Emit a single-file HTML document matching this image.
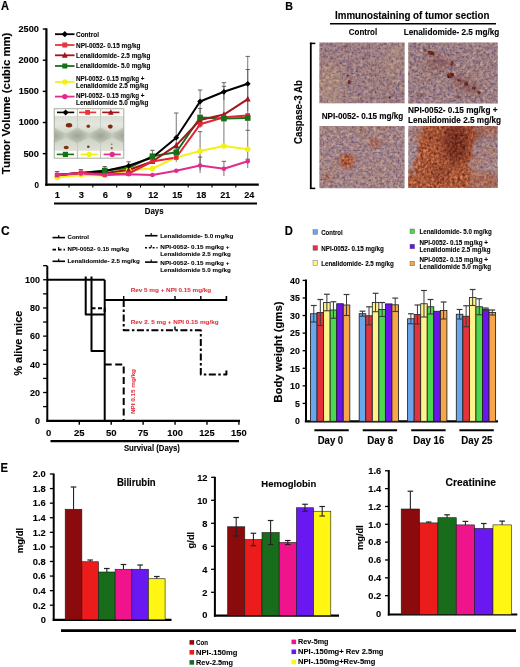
<!DOCTYPE html>
<html><head><meta charset="utf-8"><style>
html,body{margin:0;padding:0;background:#fff;}
svg{display:block;font-family:"Liberation Sans", sans-serif;}
</style></head><body>
<svg style="will-change:transform" width="520" height="667" viewBox="0 0 520 667" font-family='"Liberation Sans", sans-serif'>

<defs>
<clipPath id="clipB0"><rect x="319.4" y="42.5" width="85.2" height="60.7"/></clipPath>
<clipPath id="clipB1"><rect x="408.2" y="42.4" width="89.6" height="61.2"/></clipPath>
<clipPath id="clipB2"><rect x="319.4" y="126" width="85.2" height="62.2"/></clipPath>
<clipPath id="clipB3"><rect x="408.2" y="126.1" width="89.6" height="61.8"/></clipPath>
<clipPath id="clipInset"><rect x="54.2" y="108.7" width="69.6" height="49.5"/></clipPath>
<linearGradient id="gWellU" x1="0" y1="0" x2="0" y2="1"><stop offset="0" stop-color="#d9ddd2"/><stop offset="0.5" stop-color="#e4e7de"/><stop offset="1" stop-color="#d2d6ca"/></linearGradient>
<linearGradient id="gWellL" x1="0" y1="0" x2="0" y2="1"><stop offset="0" stop-color="#d0d4c7"/><stop offset="1" stop-color="#dfe2d8"/></linearGradient>
<radialGradient id="gDia"><stop offset="0" stop-color="#9fa595"/><stop offset="1" stop-color="#bfc5b6"/></radialGradient>
<filter id="blur05" x="-50%" y="-50%" width="200%" height="200%"><feGaussianBlur stdDeviation="0.45"/></filter>
<filter id="texBrown" x="0" y="0" width="100%" height="100%" color-interpolation-filters="sRGB"><feTurbulence type="fractalNoise" baseFrequency="0.35" numOctaves="2" seed="21"/><feColorMatrix type="matrix" values="0.2 0.6 0 0 0.05  0.15 0.45 0 0 -0.14  0.1 0.35 0 0 -0.1  0 0 0 0 1"/></filter>
<filter id="texTan" x="0" y="0" width="100%" height="100%" color-interpolation-filters="sRGB"><feTurbulence type="fractalNoise" baseFrequency="0.35" numOctaves="2" seed="29"/><feColorMatrix type="matrix" values="0.2 0.5 0 0 0.42  0.2 0.5 0 0 0.28  0.15 0.4 0 0 0.22  0 0 0 0 1"/></filter>
<filter id="texOrange" x="0" y="0" width="100%" height="100%" color-interpolation-filters="sRGB"><feTurbulence type="fractalNoise" baseFrequency="0.38" numOctaves="2" seed="26"/><feColorMatrix type="matrix" values="0.3 0.65 0 0 0.19  0.25 0.5 0 0 -0.03  0.15 0.4 0 0 -0.05  0 0 0 0 1"/></filter>
<filter id="texDark" x="0" y="0" width="100%" height="100%" color-interpolation-filters="sRGB"><feTurbulence type="fractalNoise" baseFrequency="0.38" numOctaves="2" seed="31"/><feColorMatrix type="matrix" values="0.2 0.6 0 0 0.03  0.1 0.4 0 0 -0.08  0.1 0.3 0 0 -0.08  0 0 0 0 1"/></filter>
<filter id="ragged" x="-20%" y="-20%" width="140%" height="140%" filterUnits="objectBoundingBox"><feTurbulence type="fractalNoise" baseFrequency="0.15" numOctaves="3" seed="5" result="t"/><feDisplacementMap in="SourceGraphic" in2="t" scale="16" xChannelSelector="R" yChannelSelector="G" result="d"/><feGaussianBlur in="d" stdDeviation="1.2"/></filter>
<filter id="blur15" x="-50%" y="-50%" width="200%" height="200%"><feGaussianBlur stdDeviation="1.0"/></filter>
<filter id="blur1" x="-50%" y="-50%" width="200%" height="200%"><feGaussianBlur stdDeviation="0.7"/></filter>
<filter id="blur2" x="-50%" y="-50%" width="200%" height="200%"><feGaussianBlur stdDeviation="2"/></filter>
<filter id="blur3" x="-50%" y="-50%" width="200%" height="200%"><feGaussianBlur stdDeviation="4"/></filter>

<filter id="tissue0" x="0" y="0" width="100%" height="100%" color-interpolation-filters="sRGB">
 <feTurbulence type="fractalNoise" baseFrequency="0.3" numOctaves="2" seed="3"/>
 <feColorMatrix type="matrix" values="0.3 0.35 0 0 0.335  0.2 0.35 0 0 0.28  0 0.3 0 0 0.41  0 0 0 0 1" result="b"/>
 <feTurbulence type="fractalNoise" baseFrequency="0.48" numOctaves="1" seed="17" result="n"/>
 <feColorMatrix in="n" type="matrix" values="0 0 0 0 0.33  0 0 0 0 0.31  0 0 0 0 0.53  1 0 0 0 0"/>
 <feComponentTransfer><feFuncA type="linear" slope="3.2" intercept="-1.68"/></feComponentTransfer>
 <feGaussianBlur stdDeviation="0.4" result="nn"/>
 <feComposite in="nn" in2="b" operator="over"/>
</filter>


<filter id="tissue1" x="0" y="0" width="100%" height="100%" color-interpolation-filters="sRGB">
 <feTurbulence type="fractalNoise" baseFrequency="0.3" numOctaves="2" seed="10"/>
 <feColorMatrix type="matrix" values="0.3 0.35 0 0 0.335  0.2 0.35 0 0 0.28  0 0.3 0 0 0.41  0 0 0 0 1" result="b"/>
 <feTurbulence type="fractalNoise" baseFrequency="0.48" numOctaves="1" seed="28" result="n"/>
 <feColorMatrix in="n" type="matrix" values="0 0 0 0 0.33  0 0 0 0 0.31  0 0 0 0 0.53  1 0 0 0 0"/>
 <feComponentTransfer><feFuncA type="linear" slope="3.2" intercept="-1.68"/></feComponentTransfer>
 <feGaussianBlur stdDeviation="0.4" result="nn"/>
 <feComposite in="nn" in2="b" operator="over"/>
</filter>


<filter id="tissue2" x="0" y="0" width="100%" height="100%" color-interpolation-filters="sRGB">
 <feTurbulence type="fractalNoise" baseFrequency="0.3" numOctaves="2" seed="17"/>
 <feColorMatrix type="matrix" values="0.3 0.35 0 0 0.335  0.2 0.35 0 0 0.28  0 0.3 0 0 0.41  0 0 0 0 1" result="b"/>
 <feTurbulence type="fractalNoise" baseFrequency="0.48" numOctaves="1" seed="39" result="n"/>
 <feColorMatrix in="n" type="matrix" values="0 0 0 0 0.33  0 0 0 0 0.31  0 0 0 0 0.53  1 0 0 0 0"/>
 <feComponentTransfer><feFuncA type="linear" slope="3.2" intercept="-1.68"/></feComponentTransfer>
 <feGaussianBlur stdDeviation="0.4" result="nn"/>
 <feComposite in="nn" in2="b" operator="over"/>
</filter>


<filter id="tissue3" x="0" y="0" width="100%" height="100%" color-interpolation-filters="sRGB">
 <feTurbulence type="fractalNoise" baseFrequency="0.3" numOctaves="2" seed="24"/>
 <feColorMatrix type="matrix" values="0.3 0.35 0 0 0.335  0.2 0.35 0 0 0.28  0 0.3 0 0 0.41  0 0 0 0 1" result="b"/>
 <feTurbulence type="fractalNoise" baseFrequency="0.48" numOctaves="1" seed="50" result="n"/>
 <feColorMatrix in="n" type="matrix" values="0 0 0 0 0.33  0 0 0 0 0.31  0 0 0 0 0.53  1 0 0 0 0"/>
 <feComponentTransfer><feFuncA type="linear" slope="3.2" intercept="-1.68"/></feComponentTransfer>
 <feGaussianBlur stdDeviation="0.4" result="nn"/>
 <feComposite in="nn" in2="b" operator="over"/>
</filter>

<mask id="m0_0" maskUnits="userSpaceOnUse" x="300" y="30" width="220" height="170"><g filter="url(#blur1)" fill="#fff"><ellipse cx="349" cy="82" rx="1.4" ry="2.6"/><ellipse cx="390" cy="97.5" rx="1.2" ry="1.2"/><ellipse cx="347.5" cy="76" rx="1.2" ry="1.4" opacity="0.7"/><ellipse cx="345" cy="47" rx="2" ry="2" opacity="0.4"/></g><rect x="319" y="42" width="86" height="62" fill="#fff" opacity="0.12"/></mask><mask id="m0_1" maskUnits="userSpaceOnUse" x="300" y="30" width="220" height="170"><g filter="url(#blur3)" fill="#fff"><ellipse cx="330" cy="85" rx="14" ry="20" opacity="0.35"/><ellipse cx="395" cy="60" rx="12" ry="20" opacity="0.25"/></g></mask><mask id="m1_0" maskUnits="userSpaceOnUse" x="300" y="30" width="220" height="170"><g filter="url(#blur1)" fill="#fff"><ellipse cx="431" cy="53" rx="3.6" ry="2" transform="rotate(20 431 53)"/><ellipse cx="425" cy="50.5" rx="1.8" ry="1.4" opacity="0.7"/><ellipse cx="452" cy="63.5" rx="1.6" ry="2.4"/><ellipse cx="450.5" cy="75.5" rx="3.6" ry="2.6" transform="rotate(-20 450.5 75.5)"/><ellipse cx="459" cy="80" rx="2" ry="1.5"/><ellipse cx="466" cy="84" rx="2.2" ry="1.7"/><ellipse cx="474" cy="88" rx="2" ry="1.7"/><ellipse cx="479" cy="92.5" rx="1.8" ry="1.6"/><ellipse cx="458" cy="97" rx="3" ry="1.6" opacity="0.5"/><ellipse cx="420" cy="95" rx="3" ry="2" opacity="0.35"/></g></mask><mask id="m1_1" maskUnits="userSpaceOnUse" x="300" y="30" width="220" height="170"><g filter="url(#blur3)" fill="#fff"><ellipse cx="440" cy="62" rx="14" ry="6" transform="rotate(25 440 62)" opacity="0.35"/><ellipse cx="465" cy="85" rx="16" ry="6" transform="rotate(30 465 85)" opacity="0.35"/><ellipse cx="430" cy="68" rx="8" ry="3" opacity="0.3"/></g><rect x="408" y="42" width="90" height="62" fill="#fff" opacity="0.1"/></mask><mask id="m2_0" maskUnits="userSpaceOnUse" x="300" y="30" width="220" height="170"><g filter="url(#blur2)" fill="#fff"><ellipse cx="347" cy="161" rx="8" ry="7"/><ellipse cx="375" cy="143" rx="7" ry="5" opacity="0.55"/><ellipse cx="327" cy="177.5" rx="3" ry="2.2"/><ellipse cx="362" cy="132" rx="5" ry="3" opacity="0.4"/><ellipse cx="385" cy="128" rx="6" ry="3" opacity="0.3"/></g><rect x="319" y="126" width="86" height="62" fill="#fff" opacity="0.1"/></mask><mask id="m3_0" maskUnits="userSpaceOnUse" x="300" y="30" width="220" height="170"><g filter="url(#ragged)" fill="#fff"><path d="M421 122 L474 122 L478 136 L468 160 L472 192 L406 192 L406 178 L414 171 L418 150 Z"/></g><g filter="url(#blur3)" fill="#fff"><ellipse cx="488" cy="182" rx="16" ry="10" opacity="0.7"/><ellipse cx="490" cy="128" rx="14" ry="8" opacity="0.65"/><ellipse cx="476" cy="160" rx="8" ry="6" opacity="0.45"/><ellipse cx="470" cy="178" rx="8" ry="8" opacity="0.6"/><ellipse cx="490" cy="152" rx="10" ry="8" opacity="0.3"/><ellipse cx="414" cy="135" rx="6" ry="10" opacity="0.3"/></g></mask><mask id="m3_1" maskUnits="userSpaceOnUse" x="300" y="30" width="220" height="170"><g filter="url(#blur3)" fill="#fff"><ellipse cx="456" cy="143" rx="13" ry="21" opacity="0.85"/><ellipse cx="440" cy="172" rx="10" ry="8" opacity="0.4"/><ellipse cx="432" cy="135" rx="6" ry="6" opacity="0.3"/><ellipse cx="478" cy="135" rx="6" ry="8" opacity="0.4"/></g></mask>
</defs>

<rect width="520" height="667" fill="#fff"/>
<text x="0.9" y="10.2" font-size="12.2" font-weight="bold" fill="#000" stroke="#000" stroke-width="0.15" textLength="8" lengthAdjust="spacingAndGlyphs" >A</text>
<text x="9.6" y="103.4" font-size="10.9" font-weight="bold" fill="#000" stroke="#000" stroke-width="0.13" text-anchor="middle" textLength="141.5" lengthAdjust="spacingAndGlyphs" transform="rotate(-90 9.6 103.4)" >Tumor Volume (cubic mm)</text>
<line x1="46.4" y1="28.3" x2="46.4" y2="185.8" stroke="#000" stroke-width="2.2" />
<text x="38.9" y="187.75" font-size="8.2" font-weight="bold" fill="#000" stroke="#000" stroke-width="0.10" text-anchor="end" textLength="4.5" lengthAdjust="spacingAndGlyphs" >0</text>
<line x1="42.8" y1="153.65" x2="46.4" y2="153.65" stroke="#000" stroke-width="1.4" />
<text x="38.9" y="156.6" font-size="8.2" font-weight="bold" fill="#000" stroke="#000" stroke-width="0.10" text-anchor="end" textLength="15.5" lengthAdjust="spacingAndGlyphs" >500</text>
<line x1="42.8" y1="122.5" x2="46.4" y2="122.5" stroke="#000" stroke-width="1.4" />
<text x="38.9" y="125.45" font-size="8.2" font-weight="bold" fill="#000" stroke="#000" stroke-width="0.10" text-anchor="end" textLength="20.2" lengthAdjust="spacingAndGlyphs" >1000</text>
<line x1="42.8" y1="91.35000000000001" x2="46.4" y2="91.35000000000001" stroke="#000" stroke-width="1.4" />
<text x="38.9" y="94.30000000000001" font-size="8.2" font-weight="bold" fill="#000" stroke="#000" stroke-width="0.10" text-anchor="end" textLength="20.2" lengthAdjust="spacingAndGlyphs" >1500</text>
<line x1="42.8" y1="60.2" x2="46.4" y2="60.2" stroke="#000" stroke-width="1.4" />
<text x="38.9" y="63.150000000000006" font-size="8.2" font-weight="bold" fill="#000" stroke="#000" stroke-width="0.10" text-anchor="end" textLength="20.4" lengthAdjust="spacingAndGlyphs" >2000</text>
<line x1="42.8" y1="29.05000000000001" x2="46.4" y2="29.05000000000001" stroke="#000" stroke-width="1.4" />
<text x="38.9" y="32.000000000000014" font-size="8.2" font-weight="bold" fill="#000" stroke="#000" stroke-width="0.10" text-anchor="end" textLength="20.4" lengthAdjust="spacingAndGlyphs" >2500</text>
<line x1="45.3" y1="184.7" x2="258.8" y2="184.7" stroke="#000" stroke-width="2.2" />
<line x1="69.015" y1="184.7" x2="69.015" y2="187.5" stroke="#000" stroke-width="1.1" />
<line x1="92.845" y1="184.7" x2="92.845" y2="187.5" stroke="#000" stroke-width="1.1" />
<line x1="116.675" y1="184.7" x2="116.675" y2="187.5" stroke="#000" stroke-width="1.1" />
<line x1="140.505" y1="184.7" x2="140.505" y2="187.5" stroke="#000" stroke-width="1.1" />
<line x1="164.33499999999998" y1="184.7" x2="164.33499999999998" y2="187.5" stroke="#000" stroke-width="1.1" />
<line x1="188.165" y1="184.7" x2="188.165" y2="187.5" stroke="#000" stroke-width="1.1" />
<line x1="211.995" y1="184.7" x2="211.995" y2="187.5" stroke="#000" stroke-width="1.1" />
<line x1="235.825" y1="184.7" x2="235.825" y2="187.5" stroke="#000" stroke-width="1.1" />
<text x="57.3" y="198.0" font-size="9.4" font-weight="bold" fill="#000" stroke="#000" stroke-width="0.11" text-anchor="middle" textLength="5.2" lengthAdjust="spacingAndGlyphs" >1</text>
<text x="81.3" y="198.0" font-size="9.4" font-weight="bold" fill="#000" stroke="#000" stroke-width="0.11" text-anchor="middle" textLength="5.2" lengthAdjust="spacingAndGlyphs" >3</text>
<text x="105.3" y="198.0" font-size="9.4" font-weight="bold" fill="#000" stroke="#000" stroke-width="0.11" text-anchor="middle" textLength="5.2" lengthAdjust="spacingAndGlyphs" >6</text>
<text x="129.3" y="198.0" font-size="9.4" font-weight="bold" fill="#000" stroke="#000" stroke-width="0.11" text-anchor="middle" textLength="5.2" lengthAdjust="spacingAndGlyphs" >9</text>
<text x="153.3" y="198.0" font-size="9.4" font-weight="bold" fill="#000" stroke="#000" stroke-width="0.11" text-anchor="middle" textLength="10.1" lengthAdjust="spacingAndGlyphs" >12</text>
<text x="177.3" y="198.0" font-size="9.4" font-weight="bold" fill="#000" stroke="#000" stroke-width="0.11" text-anchor="middle" textLength="10.1" lengthAdjust="spacingAndGlyphs" >15</text>
<text x="201.3" y="198.0" font-size="9.4" font-weight="bold" fill="#000" stroke="#000" stroke-width="0.11" text-anchor="middle" textLength="10.1" lengthAdjust="spacingAndGlyphs" >18</text>
<text x="225.3" y="198.0" font-size="9.4" font-weight="bold" fill="#000" stroke="#000" stroke-width="0.11" text-anchor="middle" textLength="10.1" lengthAdjust="spacingAndGlyphs" >21</text>
<text x="249.3" y="198.0" font-size="9.4" font-weight="bold" fill="#000" stroke="#000" stroke-width="0.11" text-anchor="middle" textLength="10.1" lengthAdjust="spacingAndGlyphs" >24</text>
<line x1="54" y1="203.5" x2="257" y2="203.5" stroke="#000" stroke-width="2.2" />
<text x="154.2" y="214.1" font-size="9.2" font-weight="bold" fill="#000" stroke="#000" stroke-width="0.11" text-anchor="middle" textLength="18.8" lengthAdjust="spacingAndGlyphs" >Days</text>
<line x1="57.1" y1="171.5" x2="57.1" y2="178" stroke="#555" stroke-width="0.8" />
<line x1="54.9" y1="171.5" x2="59.300000000000004" y2="171.5" stroke="#555" stroke-width="0.9" />
<line x1="80.93" y1="169.5" x2="80.93" y2="176" stroke="#555" stroke-width="0.8" />
<line x1="78.73" y1="169.5" x2="83.13000000000001" y2="169.5" stroke="#555" stroke-width="0.9" />
<line x1="104.75999999999999" y1="166.5" x2="104.75999999999999" y2="176" stroke="#555" stroke-width="0.8" />
<line x1="102.55999999999999" y1="166.5" x2="106.96" y2="166.5" stroke="#555" stroke-width="0.9" />
<line x1="128.59" y1="161.8" x2="128.59" y2="171" stroke="#555" stroke-width="0.8" />
<line x1="126.39" y1="161.8" x2="130.79" y2="161.8" stroke="#555" stroke-width="0.9" />
<line x1="152.42" y1="150.3" x2="152.42" y2="163" stroke="#555" stroke-width="0.8" />
<line x1="150.22" y1="150.3" x2="154.61999999999998" y2="150.3" stroke="#555" stroke-width="0.9" />
<line x1="176.25" y1="113" x2="176.25" y2="162" stroke="#555" stroke-width="0.8" />
<line x1="174.05" y1="113" x2="178.45" y2="113" stroke="#555" stroke-width="0.9" />
<line x1="176.25" y1="148" x2="176.25" y2="157" stroke="#555" stroke-width="0.8" />
<line x1="174.05" y1="148" x2="178.45" y2="148" stroke="#555" stroke-width="0.9" />
<line x1="200.07999999999998" y1="90" x2="200.07999999999998" y2="113" stroke="#555" stroke-width="0.8" />
<line x1="197.88" y1="90" x2="202.27999999999997" y2="90" stroke="#555" stroke-width="0.9" />
<line x1="200.07999999999998" y1="108.5" x2="200.07999999999998" y2="128" stroke="#555" stroke-width="0.8" />
<line x1="197.88" y1="108.5" x2="202.27999999999997" y2="108.5" stroke="#555" stroke-width="0.9" />
<line x1="200.07999999999998" y1="131.7" x2="200.07999999999998" y2="170" stroke="#555" stroke-width="0.8" />
<line x1="197.88" y1="131.7" x2="202.27999999999997" y2="131.7" stroke="#555" stroke-width="0.9" />
<line x1="200.07999999999998" y1="157" x2="200.07999999999998" y2="173" stroke="#555" stroke-width="0.8" />
<line x1="197.88" y1="157" x2="202.27999999999997" y2="157" stroke="#555" stroke-width="0.9" />
<line x1="223.91" y1="82.7" x2="223.91" y2="145.5" stroke="#555" stroke-width="0.8" />
<line x1="221.71" y1="82.7" x2="226.10999999999999" y2="82.7" stroke="#555" stroke-width="0.9" />
<line x1="223.91" y1="86.3" x2="223.91" y2="100" stroke="#555" stroke-width="0.8" />
<line x1="221.71" y1="86.3" x2="226.10999999999999" y2="86.3" stroke="#555" stroke-width="0.9" />
<line x1="223.91" y1="161.3" x2="223.91" y2="176" stroke="#555" stroke-width="0.8" />
<line x1="221.71" y1="161.3" x2="226.10999999999999" y2="161.3" stroke="#555" stroke-width="0.9" />
<line x1="247.73999999999998" y1="56.4" x2="247.73999999999998" y2="111" stroke="#555" stroke-width="0.8" />
<line x1="245.54" y1="56.4" x2="249.93999999999997" y2="56.4" stroke="#555" stroke-width="0.9" />
<line x1="247.73999999999998" y1="69.5" x2="247.73999999999998" y2="130" stroke="#555" stroke-width="0.8" />
<line x1="245.54" y1="69.5" x2="249.93999999999997" y2="69.5" stroke="#555" stroke-width="0.9" />
<line x1="247.73999999999998" y1="130.3" x2="247.73999999999998" y2="168" stroke="#555" stroke-width="0.8" />
<line x1="245.54" y1="130.3" x2="249.93999999999997" y2="130.3" stroke="#555" stroke-width="0.9" />
<line x1="247.73999999999998" y1="159.2" x2="247.73999999999998" y2="164" stroke="#555" stroke-width="0.8" />
<line x1="245.54" y1="159.2" x2="249.93999999999997" y2="159.2" stroke="#555" stroke-width="0.9" />
<polyline points="57.10,177.50 80.93,175.00 104.76,175.50 128.59,170.30 152.42,168.50 176.25,157.40 200.08,151.00 223.91,146.00 247.74,149.30" fill="none" stroke="#f4f014" stroke-width="2.0" stroke-linejoin="round" />
<polyline points="57.10,175.00 80.93,173.00 104.76,170.50 128.59,168.00 152.42,156.20 176.25,152.30 200.08,117.50 223.91,118.60 247.74,118.00" fill="none" stroke="#167016" stroke-width="2.0" stroke-linejoin="round" />
<polyline points="57.10,175.00 80.93,173.00 104.76,173.00 128.59,170.00 152.42,161.50 176.25,145.40 200.08,120.00 223.91,114.60 247.74,99.10" fill="none" stroke="#a3151c" stroke-width="2.0" stroke-linejoin="round" />
<polyline points="57.10,175.00 80.93,173.00 104.76,171.00 128.59,165.80 152.42,157.50 176.25,137.70 200.08,101.50 223.91,91.80 247.74,83.80" fill="none" stroke="#000000" stroke-width="2.0" stroke-linejoin="round" />
<polyline points="57.10,175.00 80.93,172.80 104.76,174.50 128.59,173.50 152.42,161.50 176.25,157.50 200.08,124.30 223.91,117.30 247.74,115.50" fill="none" stroke="#e2243a" stroke-width="2.0" stroke-linejoin="round" />
<polyline points="57.10,175.00 80.93,173.50 104.76,175.00 128.59,174.30 152.42,175.00 176.25,170.80 200.08,165.50 223.91,168.80 247.74,161.30" fill="none" stroke="#e02c8a" stroke-width="2.0" stroke-linejoin="round" />
<circle cx="57.1" cy="177.5" r="2.8" fill="#f4f014"/>
<circle cx="80.93" cy="175" r="2.8" fill="#f4f014"/>
<circle cx="104.75999999999999" cy="175.5" r="2.8" fill="#f4f014"/>
<circle cx="128.59" cy="170.3" r="2.8" fill="#f4f014"/>
<circle cx="152.42" cy="168.5" r="2.8" fill="#f4f014"/>
<circle cx="176.25" cy="157.4" r="2.8" fill="#f4f014"/>
<circle cx="200.07999999999998" cy="151" r="2.8" fill="#f4f014"/>
<circle cx="223.91" cy="146" r="2.8" fill="#f4f014"/>
<circle cx="247.73999999999998" cy="149.3" r="2.8" fill="#f4f014"/>
<polygon points="104.75999999999999,169.7 107.66,175.5 101.85999999999999,175.5" fill="#a3151c"/>
<polygon points="128.59,166.7 131.49,172.5 125.69,172.5" fill="#a3151c"/>
<polygon points="152.42,158.2 155.32,164.0 149.51999999999998,164.0" fill="#a3151c"/>
<polygon points="176.25,142.1 179.15,147.9 173.35,147.9" fill="#a3151c"/>
<polygon points="200.07999999999998,116.7 202.98,122.5 197.17999999999998,122.5" fill="#a3151c"/>
<polygon points="223.91,111.3 226.81,117.1 221.01,117.1" fill="#a3151c"/>
<polygon points="247.73999999999998,95.8 250.64,101.6 244.83999999999997,101.6" fill="#a3151c"/>
<polygon points="104.75999999999999,168.1 107.65999999999998,171 104.75999999999999,173.9 101.86,171" fill="#000000"/>
<polygon points="128.59,162.9 131.49,165.8 128.59,168.70000000000002 125.69000000000001,165.8" fill="#000000"/>
<polygon points="152.42,154.6 155.32,157.5 152.42,160.4 149.51999999999998,157.5" fill="#000000"/>
<polygon points="176.25,134.79999999999998 179.15,137.7 176.25,140.6 173.35,137.7" fill="#000000"/>
<polygon points="200.07999999999998,98.60000000000001 202.98,101.5 200.07999999999998,104.39999999999999 197.17999999999998,101.5" fill="#000000"/>
<polygon points="223.91,88.9 226.81,91.8 223.91,94.69999999999999 221.01,91.8" fill="#000000"/>
<polygon points="247.73999999999998,80.9 250.64,83.8 247.73999999999998,86.69999999999999 244.83999999999997,83.8" fill="#000000"/>
<rect x="54.80" y="172.70" width="4.60" height="4.60" fill="#e2243a" />
<rect x="78.63" y="170.50" width="4.60" height="4.60" fill="#e2243a" />
<rect x="102.46" y="172.20" width="4.60" height="4.60" fill="#e2243a" />
<rect x="126.29" y="171.20" width="4.60" height="4.60" fill="#e2243a" />
<rect x="150.12" y="159.20" width="4.60" height="4.60" fill="#e2243a" />
<rect x="173.95" y="155.20" width="4.60" height="4.60" fill="#e2243a" />
<rect x="197.78" y="122.00" width="4.60" height="4.60" fill="#e2243a" />
<rect x="221.61" y="115.00" width="4.60" height="4.60" fill="#e2243a" />
<rect x="245.44" y="113.20" width="4.60" height="4.60" fill="#e2243a" />
<rect x="101.96" y="167.70" width="5.60" height="5.60" fill="#167016" />
<rect x="149.62" y="153.40" width="5.60" height="5.60" fill="#167016" />
<rect x="173.45" y="149.50" width="5.60" height="5.60" fill="#167016" />
<rect x="197.28" y="114.70" width="5.60" height="5.60" fill="#167016" />
<rect x="221.11" y="115.80" width="5.60" height="5.60" fill="#167016" />
<rect x="244.94" y="115.20" width="5.60" height="5.60" fill="#167016" />
<circle cx="57.1" cy="175" r="2.3" fill="#e02c8a"/>
<circle cx="80.93" cy="173.5" r="2.3" fill="#e02c8a"/>
<circle cx="104.75999999999999" cy="175" r="2.3" fill="#e02c8a"/>
<circle cx="128.59" cy="174.3" r="2.3" fill="#e02c8a"/>
<circle cx="152.42" cy="175" r="2.3" fill="#e02c8a"/>
<circle cx="176.25" cy="170.8" r="2.3" fill="#e02c8a"/>
<circle cx="200.07999999999998" cy="165.5" r="2.3" fill="#e02c8a"/>
<circle cx="223.91" cy="168.8" r="2.3" fill="#e02c8a"/>
<circle cx="247.73999999999998" cy="161.3" r="2.3" fill="#e02c8a"/>
<line x1="55" y1="34.2" x2="74.5" y2="34.2" stroke="#000000" stroke-width="1.8" />
<polygon points="64.8,31.1 67.89999999999999,34.2 64.8,37.300000000000004 61.699999999999996,34.2" fill="#000000"/>
<text x="76" y="37.199999999999996" font-size="6.6" font-weight="bold" fill="#000" stroke="#000" stroke-width="0.08" textLength="23" lengthAdjust="spacingAndGlyphs" >Control</text>
<line x1="55" y1="45" x2="74.5" y2="45" stroke="#e8343c" stroke-width="1.8" />
<rect x="62.30" y="42.50" width="5.00" height="5.00" fill="#e8343c" />
<text x="76" y="47.8" font-size="6.6" font-weight="bold" fill="#000" stroke="#000" stroke-width="0.08" textLength="64.5" lengthAdjust="spacingAndGlyphs" >NPI-0052- 0.15 mg/kg</text>
<line x1="55" y1="55.3" x2="74.5" y2="55.3" stroke="#a3151c" stroke-width="1.8" />
<polygon points="64.8,52.0 67.7,57.8 61.9,57.8" fill="#a3151c"/>
<text x="76" y="57.699999999999996" font-size="6.6" font-weight="bold" fill="#000" stroke="#000" stroke-width="0.08" textLength="74.5" lengthAdjust="spacingAndGlyphs" >Lenalidomide- 2.5 mg/kg</text>
<line x1="55" y1="66" x2="74.5" y2="66" stroke="#167016" stroke-width="1.8" />
<rect x="62.30" y="63.50" width="5.00" height="5.00" fill="#167016" />
<text x="76" y="68.4" font-size="6.6" font-weight="bold" fill="#000" stroke="#000" stroke-width="0.08" textLength="74.5" lengthAdjust="spacingAndGlyphs" >Lenalidomide- 5.0 mg/kg</text>
<line x1="55" y1="82" x2="74.5" y2="82" stroke="#f4f014" stroke-width="1.8" />
<circle cx="64.8" cy="82" r="2.7" fill="#f4f014"/>
<text x="76" y="81.4" font-size="6.6" font-weight="bold" fill="#000" stroke="#000" stroke-width="0.08" textLength="68.5" lengthAdjust="spacingAndGlyphs" >NPI-0052- 0.15 mg/kg +</text>
<text x="76" y="88.30000000000001" font-size="6.6" font-weight="bold" fill="#000" stroke="#000" stroke-width="0.08" textLength="72.5" lengthAdjust="spacingAndGlyphs" >Lenalidomide 2.5 mg/kg</text>
<line x1="55" y1="96.6" x2="74.5" y2="96.6" stroke="#e02c8a" stroke-width="1.8" />
<circle cx="64.8" cy="96.6" r="2.7" fill="#e02c8a"/>
<text x="76" y="98.4" font-size="6.6" font-weight="bold" fill="#000" stroke="#000" stroke-width="0.08" textLength="68.5" lengthAdjust="spacingAndGlyphs" >NPI-0052- 0.15 mg/kg +</text>
<text x="76" y="105.30000000000001" font-size="6.6" font-weight="bold" fill="#000" stroke="#000" stroke-width="0.08" textLength="72.5" lengthAdjust="spacingAndGlyphs" >Lenalidomide 5.0 mg/kg</text>
<g clip-path="url(#clipInset)">
<rect x="54.20" y="108.70" width="69.60" height="49.50" fill="#c2c8ba" />
<polygon points="54.599999999999994,115 76.99999999999999,115 76.99999999999999,127.5 65.8,133.6 54.599999999999994,127.5" fill="url(#gWellU)"/>
<polygon points="54.599999999999994,152 54.599999999999994,143.5 65.8,137.8 76.99999999999999,143.5 76.99999999999999,152" fill="url(#gWellL)"/>
<polygon points="77.80000000000001,115 100.19999999999999,115 100.19999999999999,127.5 89.0,133.6 77.80000000000001,127.5" fill="url(#gWellU)"/>
<polygon points="77.80000000000001,152 77.80000000000001,143.5 89.0,137.8 100.19999999999999,143.5 100.19999999999999,152" fill="url(#gWellL)"/>
<polygon points="101.0,115 123.39999999999998,115 123.39999999999998,127.5 112.19999999999999,133.6 101.0,127.5" fill="url(#gWellU)"/>
<polygon points="101.0,152 101.0,143.5 112.19999999999999,137.8 123.39999999999998,143.5 123.39999999999998,152" fill="url(#gWellL)"/>
<polygon points="54.2,129 64.3,134.3 64.3,137.2 54.2,142.5 44.1,137.2 44.1,134.3" fill="url(#gDia)"/>
<polygon points="77.4,129 87.5,134.3 87.5,137.2 77.4,142.5 67.30000000000001,137.2 67.30000000000001,134.3" fill="url(#gDia)"/>
<polygon points="100.6,129 110.69999999999999,134.3 110.69999999999999,137.2 100.6,142.5 90.5,137.2 90.5,134.3" fill="url(#gDia)"/>
<polygon points="123.8,129 133.9,134.3 133.9,137.2 123.8,142.5 113.7,137.2 113.7,134.3" fill="url(#gDia)"/>
<ellipse cx="69" cy="125.2" rx="3.2" ry="2.2" fill="#7e2c14" filter="url(#blur05)"/>
<ellipse cx="88.3" cy="126.2" rx="1.8" ry="1.7" fill="#8a3418" filter="url(#blur05)"/>
<ellipse cx="110.3" cy="126.6" rx="2.4" ry="2.1" fill="#7e2c14" filter="url(#blur05)"/>
<ellipse cx="66.2" cy="147.5" rx="2.6" ry="1.8" fill="#7e3414" filter="url(#blur05)"/>
<ellipse cx="88.3" cy="146.8" rx="1.3" ry="1.3" fill="#6e3a1e" filter="url(#blur05)"/>
<ellipse cx="111.7" cy="148.2" rx="1.1" ry="1.1" fill="#9a5a3a" filter="url(#blur05)"/>
<ellipse cx="111.7" cy="144.3" rx="0.8" ry="0.8" fill="#9a6a4a" filter="url(#blur05)"/>
<rect x="54.20" y="108.70" width="69.60" height="7.30" fill="#fbfbf8" />
<line x1="77.4" y1="108.7" x2="77.4" y2="116.0" stroke="#aeb3a5" stroke-width="0.9" />
<line x1="100.6" y1="108.7" x2="100.6" y2="116.0" stroke="#aeb3a5" stroke-width="0.9" />
<rect x="54.20" y="150.80" width="69.60" height="7.40" fill="#fbfbf8" />
<line x1="77.4" y1="150.8" x2="77.4" y2="158.20000000000002" stroke="#aeb3a5" stroke-width="0.9" />
<line x1="100.6" y1="150.8" x2="100.6" y2="158.20000000000002" stroke="#aeb3a5" stroke-width="0.9" />
</g>
<rect x="54.2" y="108.7" width="69.6" height="49.499999999999986" fill="none" stroke="#a4a99b" stroke-width="0.9"/>
<line x1="56.99999999999999" y1="112.4" x2="74.19999999999999" y2="112.4" stroke="#000" stroke-width="1.6" />
<polygon points="65.6,109.4 68.6,112.4 65.6,115.4 62.599999999999994,112.4" fill="#000"/>
<line x1="79.0" y1="112.4" x2="96.19999999999999" y2="112.4" stroke="#e8343c" stroke-width="1.6" />
<rect x="85.20" y="110.00" width="4.80" height="4.80" fill="#e8343c" />
<line x1="102.2" y1="112.4" x2="119.39999999999999" y2="112.4" stroke="#a3151c" stroke-width="1.6" />
<polygon points="110.8,109.2 113.60000000000001,114.80000000000001 107.99999999999999,114.80000000000001" fill="#a3151c"/>
<line x1="56.800000000000004" y1="154.4" x2="74.0" y2="154.4" stroke="#167016" stroke-width="1.6" />
<rect x="62.80" y="151.80" width="5.20" height="5.20" fill="#167016" />
<line x1="80.60000000000001" y1="154.4" x2="97.8" y2="154.4" stroke="#f4f014" stroke-width="1.6" />
<circle cx="89.2" cy="154.4" r="2.6" fill="#f4f014"/>
<line x1="103.60000000000001" y1="154.4" x2="120.8" y2="154.4" stroke="#e02c8a" stroke-width="1.6" />
<circle cx="112.2" cy="154.4" r="2.6" fill="#e02c8a"/>
<text x="285.3" y="9.5" font-size="11.6" font-weight="bold" fill="#000" stroke="#000" stroke-width="0.14" textLength="7.7" lengthAdjust="spacingAndGlyphs" >B</text>
<text x="335" y="18.9" font-size="11.2" font-weight="bold" fill="#000" stroke="#000" stroke-width="0.13" textLength="154.5" lengthAdjust="spacingAndGlyphs" >Immunostaining of tumor section</text>
<line x1="330" y1="23.8" x2="496" y2="23.8" stroke="#000" stroke-width="1.6" />
<text x="363" y="34.9" font-size="9.0" font-weight="bold" fill="#000" stroke="#000" stroke-width="0.11" text-anchor="middle" textLength="28.3" lengthAdjust="spacingAndGlyphs" >Control</text>
<text x="451.5" y="34.9" font-size="9.0" font-weight="bold" fill="#000" stroke="#000" stroke-width="0.11" text-anchor="middle" textLength="95.5" lengthAdjust="spacingAndGlyphs" >Lenalidomide- 2.5 mg/kg</text>
<text x="362.5" y="119.2" font-size="9.0" font-weight="bold" fill="#000" stroke="#000" stroke-width="0.11" text-anchor="middle" textLength="81.7" lengthAdjust="spacingAndGlyphs" >NPI-0052- 0.15 mg/kg</text>
<text x="452.8" y="113.4" font-size="9.0" font-weight="bold" fill="#000" stroke="#000" stroke-width="0.11" text-anchor="middle" textLength="89.5" lengthAdjust="spacingAndGlyphs" >NPI-0052- 0.15 mg/kg +</text>
<text x="454.5" y="122.8" font-size="9.0" font-weight="bold" fill="#000" stroke="#000" stroke-width="0.11" text-anchor="middle" textLength="93" lengthAdjust="spacingAndGlyphs" >Lenalidomide 2.5 mg/kg</text>
<line x1="310.8" y1="42.6" x2="310.8" y2="188.8" stroke="#000" stroke-width="1.8" />
<line x1="309.9" y1="43.4" x2="315.3" y2="43.4" stroke="#000" stroke-width="1.5" />
<line x1="309.9" y1="188.4" x2="315.3" y2="188.4" stroke="#000" stroke-width="1.5" />
<text x="302.3" y="112" font-size="10.3" font-weight="bold" fill="#000" stroke="#000" stroke-width="0.12" text-anchor="middle" textLength="64" lengthAdjust="spacingAndGlyphs" transform="rotate(-90 302.3 112)" >Caspase-3 Ab</text>
<g clip-path="url(#clipB0)">
<rect x="319.4" y="42.5" width="85.2" height="60.7" filter="url(#tissue0)"/>
<rect x="319.4" y="42.5" width="85.2" height="60.7" filter="url(#texBrown)" mask="url(#m0_0)"/>
<rect x="319.4" y="42.5" width="85.2" height="60.7" filter="url(#texTan)" mask="url(#m0_1)"/>
</g>
<g clip-path="url(#clipB1)">
<rect x="408.2" y="42.4" width="89.6" height="61.2" filter="url(#tissue1)"/>
<rect x="408.2" y="42.4" width="89.6" height="61.2" filter="url(#texDark)" mask="url(#m1_0)"/>
<rect x="408.2" y="42.4" width="89.6" height="61.2" filter="url(#texBrown)" mask="url(#m1_1)"/>
</g>
<g clip-path="url(#clipB2)">
<rect x="319.4" y="126" width="85.2" height="62.2" filter="url(#tissue2)"/>
<rect x="319.4" y="126" width="85.2" height="62.2" filter="url(#texOrange)" mask="url(#m2_0)"/>
</g>
<g clip-path="url(#clipB3)">
<rect x="408.2" y="126.1" width="89.6" height="61.8" filter="url(#tissue3)"/>
<rect x="408.2" y="126.1" width="89.6" height="61.8" filter="url(#texOrange)" mask="url(#m3_0)"/>
<rect x="408.2" y="126.1" width="89.6" height="61.8" filter="url(#texDark)" mask="url(#m3_1)"/>
</g>
<text x="0.9" y="234.7" font-size="12.4" font-weight="bold" fill="#000" stroke="#000" stroke-width="0.15" textLength="8.7" lengthAdjust="spacingAndGlyphs" >C</text>
<line x1="52.5" y1="237.6" x2="65.0" y2="237.6" stroke="#000" stroke-width="1.6" />
<line x1="58.7" y1="235.0" x2="58.7" y2="237.6" stroke="#000" stroke-width="1.1" />
<text x="67.6" y="239.1" font-size="5.7" font-weight="bold" fill="#000" stroke="#000" stroke-width="0.07" textLength="21.2" lengthAdjust="spacingAndGlyphs" >Control</text>
<line x1="52.5" y1="249.6" x2="65.0" y2="249.6" stroke="#000" stroke-width="1.6" stroke-dasharray="3.5,2"/>
<line x1="58.7" y1="247.0" x2="58.7" y2="249.6" stroke="#000" stroke-width="1.1" />
<text x="67.6" y="251.1" font-size="5.7" font-weight="bold" fill="#000" stroke="#000" stroke-width="0.07" textLength="61.4" lengthAdjust="spacingAndGlyphs" >NPI-0052- 0.15 mg/kg</text>
<line x1="52.5" y1="261.3" x2="65.0" y2="261.3" stroke="#000" stroke-width="1.6" />
<line x1="58.7" y1="258.7" x2="58.7" y2="261.3" stroke="#000" stroke-width="1.1" />
<text x="67.6" y="262.8" font-size="5.7" font-weight="bold" fill="#000" stroke="#000" stroke-width="0.07" textLength="72.2" lengthAdjust="spacingAndGlyphs" >Lenalidomide- 2.5 mg/kg</text>
<line x1="145" y1="235.7" x2="157.5" y2="235.7" stroke="#000" stroke-width="1.6" />
<line x1="151.2" y1="233.1" x2="151.2" y2="235.7" stroke="#000" stroke-width="1.1" />
<text x="160.3" y="237.6" font-size="5.7" font-weight="bold" fill="#000" stroke="#000" stroke-width="0.07" textLength="73" lengthAdjust="spacingAndGlyphs" >Lenalidomide- 5.0 mg/kg</text>
<line x1="145" y1="247.7" x2="157.5" y2="247.7" stroke="#000" stroke-width="1.6" stroke-dasharray="2,1.8"/>
<line x1="151.2" y1="245.1" x2="151.2" y2="247.7" stroke="#000" stroke-width="1.1" />
<text x="160.3" y="249.0" font-size="5.7" font-weight="bold" fill="#000" stroke="#000" stroke-width="0.07" textLength="69.2" lengthAdjust="spacingAndGlyphs" >NPI-0052- 0.15 mg/kg +</text>
<text x="160.3" y="255.9" font-size="5.7" font-weight="bold" fill="#000" stroke="#000" stroke-width="0.07" textLength="70.5" lengthAdjust="spacingAndGlyphs" >Lenalidomide 2.5 mg/kg</text>
<line x1="145" y1="262.1" x2="157.5" y2="262.1" stroke="#000" stroke-width="1.6" />
<line x1="151.2" y1="259.5" x2="151.2" y2="262.1" stroke="#000" stroke-width="1.1" />
<text x="160.3" y="265.0" font-size="5.7" font-weight="bold" fill="#000" stroke="#000" stroke-width="0.07" textLength="69.2" lengthAdjust="spacingAndGlyphs" >NPI-0052- 0.15 mg/kg +</text>
<text x="160.3" y="272.2" font-size="5.7" font-weight="bold" fill="#000" stroke="#000" stroke-width="0.07" textLength="70.5" lengthAdjust="spacingAndGlyphs" >Lenalidomide 5.0 mg/kg</text>
<line x1="47.3" y1="265.9" x2="47.3" y2="421.7" stroke="#000" stroke-width="2" />
<line x1="43.1" y1="406.605" x2="47.3" y2="406.605" stroke="#000" stroke-width="1.3" />
<line x1="43.1" y1="392.51" x2="47.3" y2="392.51" stroke="#000" stroke-width="1.3" />
<line x1="43.1" y1="378.41499999999996" x2="47.3" y2="378.41499999999996" stroke="#000" stroke-width="1.3" />
<line x1="43.1" y1="364.32" x2="47.3" y2="364.32" stroke="#000" stroke-width="1.3" />
<line x1="43.1" y1="350.225" x2="47.3" y2="350.225" stroke="#000" stroke-width="1.3" />
<line x1="43.1" y1="336.13" x2="47.3" y2="336.13" stroke="#000" stroke-width="1.3" />
<line x1="43.1" y1="322.03499999999997" x2="47.3" y2="322.03499999999997" stroke="#000" stroke-width="1.3" />
<line x1="43.1" y1="307.94" x2="47.3" y2="307.94" stroke="#000" stroke-width="1.3" />
<line x1="43.1" y1="293.84499999999997" x2="47.3" y2="293.84499999999997" stroke="#000" stroke-width="1.3" />
<line x1="43.1" y1="279.75" x2="47.3" y2="279.75" stroke="#000" stroke-width="1.3" />
<line x1="43.1" y1="265.655" x2="47.3" y2="265.655" stroke="#000" stroke-width="1.3" />
<text x="40" y="424.0" font-size="9.4" font-weight="bold" fill="#000" stroke="#000" stroke-width="0.11" text-anchor="end" textLength="5" lengthAdjust="spacingAndGlyphs" >0</text>
<text x="40" y="395.81" font-size="9.4" font-weight="bold" fill="#000" stroke="#000" stroke-width="0.11" text-anchor="end" textLength="10" lengthAdjust="spacingAndGlyphs" >20</text>
<text x="40" y="367.62" font-size="9.4" font-weight="bold" fill="#000" stroke="#000" stroke-width="0.11" text-anchor="end" textLength="10" lengthAdjust="spacingAndGlyphs" >40</text>
<text x="40" y="339.43" font-size="9.4" font-weight="bold" fill="#000" stroke="#000" stroke-width="0.11" text-anchor="end" textLength="10" lengthAdjust="spacingAndGlyphs" >60</text>
<text x="40" y="311.24" font-size="9.4" font-weight="bold" fill="#000" stroke="#000" stroke-width="0.11" text-anchor="end" textLength="10" lengthAdjust="spacingAndGlyphs" >80</text>
<text x="40" y="283.05" font-size="9.4" font-weight="bold" fill="#000" stroke="#000" stroke-width="0.11" text-anchor="end" textLength="15" lengthAdjust="spacingAndGlyphs" >100</text>
<text x="21.8" y="343.2" font-size="10.6" font-weight="bold" fill="#000" stroke="#000" stroke-width="0.13" text-anchor="middle" textLength="65" lengthAdjust="spacingAndGlyphs" transform="rotate(-90 21.8 343.2)" >% alive mice</text>
<line x1="46.3" y1="420.8" x2="240" y2="420.8" stroke="#000" stroke-width="2.3" />
<text x="48.6" y="436.1" font-size="9.8" font-weight="bold" fill="#000" stroke="#000" stroke-width="0.12" text-anchor="middle" textLength="5.3" lengthAdjust="spacingAndGlyphs" >0</text>
<line x1="79.275" y1="420.8" x2="79.275" y2="424.8" stroke="#000" stroke-width="1.4" />
<text x="79.275" y="436.1" font-size="9.8" font-weight="bold" fill="#000" stroke="#000" stroke-width="0.12" text-anchor="middle" textLength="10.6" lengthAdjust="spacingAndGlyphs" >25</text>
<line x1="111.19999999999999" y1="420.8" x2="111.19999999999999" y2="424.8" stroke="#000" stroke-width="1.4" />
<text x="111.19999999999999" y="436.1" font-size="9.8" font-weight="bold" fill="#000" stroke="#000" stroke-width="0.12" text-anchor="middle" textLength="10.6" lengthAdjust="spacingAndGlyphs" >50</text>
<line x1="143.125" y1="420.8" x2="143.125" y2="424.8" stroke="#000" stroke-width="1.4" />
<text x="143.125" y="436.1" font-size="9.8" font-weight="bold" fill="#000" stroke="#000" stroke-width="0.12" text-anchor="middle" textLength="10.6" lengthAdjust="spacingAndGlyphs" >75</text>
<line x1="175.04999999999998" y1="420.8" x2="175.04999999999998" y2="424.8" stroke="#000" stroke-width="1.4" />
<text x="175.04999999999998" y="436.1" font-size="9.8" font-weight="bold" fill="#000" stroke="#000" stroke-width="0.12" text-anchor="middle" textLength="15.6" lengthAdjust="spacingAndGlyphs" >100</text>
<line x1="206.975" y1="420.8" x2="206.975" y2="424.8" stroke="#000" stroke-width="1.4" />
<text x="206.975" y="436.1" font-size="9.8" font-weight="bold" fill="#000" stroke="#000" stroke-width="0.12" text-anchor="middle" textLength="15.6" lengthAdjust="spacingAndGlyphs" >125</text>
<line x1="238.89999999999998" y1="420.8" x2="238.89999999999998" y2="424.8" stroke="#000" stroke-width="1.4" />
<text x="238.89999999999998" y="436.1" font-size="9.8" font-weight="bold" fill="#000" stroke="#000" stroke-width="0.12" text-anchor="middle" textLength="15.6" lengthAdjust="spacingAndGlyphs" >150</text>
<line x1="50.5" y1="441.1" x2="239" y2="441.1" stroke="#000" stroke-width="2.2" />
<text x="151.9" y="451.1" font-size="8.5" font-weight="bold" fill="#000" stroke="#000" stroke-width="0.10" text-anchor="middle" textLength="56" lengthAdjust="spacingAndGlyphs" >Survival (Days)</text>
<line x1="47.3" y1="279.8" x2="104.7" y2="279.8" stroke="#000" stroke-width="2.0" />
<polyline points="85.70,276.40 85.70,314.60 104.70,314.60" fill="none" stroke="#000" stroke-width="2.0" stroke-linejoin="round" />
<polyline points="91.50,276.40 91.50,350.90 104.70,350.90" fill="none" stroke="#000" stroke-width="2.0" stroke-linejoin="round" />
<line x1="104.7" y1="279.8" x2="104.7" y2="420.5" stroke="#000" stroke-width="2.0" />
<polyline points="91.50,308.30 104.70,308.30 104.70,314.00" fill="none" stroke="#000" stroke-width="2.0" stroke-linejoin="round" stroke-dasharray="4,2.5"/>
<polyline points="104.70,364.60 123.70,364.60 123.70,420.50" fill="none" stroke="#000" stroke-width="2.0" stroke-linejoin="round" stroke-dasharray="7,3.5"/>
<polyline points="104.70,300.00 226.40,300.00" fill="none" stroke="#000" stroke-width="2.0" stroke-linejoin="round" />
<line x1="123.7" y1="296" x2="123.7" y2="300" stroke="#000" stroke-width="1.4" />
<line x1="175" y1="296" x2="175" y2="300" stroke="#000" stroke-width="1.4" />
<line x1="200.8" y1="296" x2="200.8" y2="300" stroke="#000" stroke-width="1.4" />
<line x1="226.4" y1="296" x2="226.4" y2="301" stroke="#000" stroke-width="1.6" />
<polyline points="123.70,300.00 123.70,330.30 200.80,330.30 200.80,374.40 226.40,374.40 226.40,370.00" fill="none" stroke="#000" stroke-width="2.0" stroke-linejoin="round" stroke-dasharray="7,2.5,2.5,2.5"/>
<line x1="175" y1="326.5" x2="175" y2="330.3" stroke="#000" stroke-width="1.4" />
<text x="130.7" y="291.7" font-size="6.0" font-weight="bold" fill="#e2323e" stroke="#e2323e" stroke-width="0.07" textLength="80.5" lengthAdjust="spacingAndGlyphs" >Rev 5 mg + NPI 0.15 mg/kg</text>
<text x="130.7" y="324.3" font-size="6.0" font-weight="bold" fill="#e2323e" stroke="#e2323e" stroke-width="0.07" textLength="88" lengthAdjust="spacingAndGlyphs" >Rev 2. 5 mg + NPI 0.15 mg/kg</text>
<text x="134.5" y="391.5" font-size="6.2" font-weight="bold" fill="#e2323e" stroke="#e2323e" stroke-width="0.07" text-anchor="middle" textLength="45" lengthAdjust="spacingAndGlyphs" transform="rotate(-90 134.5 391.5)" >NPI 0.15 mg/kg</text>
<text x="284.7" y="234.5" font-size="11.9" font-weight="bold" fill="#000" stroke="#000" stroke-width="0.14" textLength="8.1" lengthAdjust="spacingAndGlyphs" >D</text>
<rect x="313.00" y="229.70" width="4.60" height="4.60" fill="#6aa6ec" stroke="#555" stroke-width="0.4" />
<text x="321.3" y="234.6" font-size="6.3" font-weight="bold" fill="#000" stroke="#000" stroke-width="0.08" textLength="21.3" lengthAdjust="spacingAndGlyphs" >Control</text>
<rect x="313.00" y="245.70" width="4.60" height="4.60" fill="#e2323c" stroke="#555" stroke-width="0.4" />
<text x="321.3" y="250.6" font-size="6.3" font-weight="bold" fill="#000" stroke="#000" stroke-width="0.08" textLength="62.5" lengthAdjust="spacingAndGlyphs" >NPI-0052- 0.15 mg/kg</text>
<rect x="313.00" y="260.70" width="4.60" height="4.60" fill="#fff48c" stroke="#555" stroke-width="0.4" />
<text x="321.3" y="265.6" font-size="6.3" font-weight="bold" fill="#000" stroke="#000" stroke-width="0.08" textLength="72.5" lengthAdjust="spacingAndGlyphs" >Lenalidomide- 2.5 mg/kg</text>
<rect x="410.00" y="229.00" width="4.60" height="4.60" fill="#4cd84c" stroke="#555" stroke-width="0.4" />
<text x="419.5" y="233.9" font-size="6.3" font-weight="bold" fill="#000" stroke="#000" stroke-width="0.08" textLength="72.3" lengthAdjust="spacingAndGlyphs" >Lenalidomide- 5.0 mg/kg</text>
<rect x="410.00" y="244.20" width="4.60" height="4.60" fill="#6a14ee" stroke="#555" stroke-width="0.4" />
<text x="419.5" y="244.7" font-size="6.3" font-weight="bold" fill="#000" stroke="#000" stroke-width="0.08" textLength="68.5" lengthAdjust="spacingAndGlyphs" >NPI-0052- 0.15 mg/kg +</text>
<text x="419.5" y="252.1" font-size="6.3" font-weight="bold" fill="#000" stroke="#000" stroke-width="0.08" textLength="71" lengthAdjust="spacingAndGlyphs" >Lenalidomide 2.5 mg/kg</text>
<rect x="410.00" y="261.20" width="4.60" height="4.60" fill="#f8a64a" stroke="#555" stroke-width="0.4" />
<text x="419.5" y="261.7" font-size="6.3" font-weight="bold" fill="#000" stroke="#000" stroke-width="0.08" textLength="68.5" lengthAdjust="spacingAndGlyphs" >NPI-0052- 0.15 mg/kg +</text>
<text x="419.5" y="269.1" font-size="6.3" font-weight="bold" fill="#000" stroke="#000" stroke-width="0.08" textLength="71.7" lengthAdjust="spacingAndGlyphs" >Lenalidomide 5.0 mg/kg</text>
<line x1="306.0" y1="279.4" x2="306.0" y2="422" stroke="#000" stroke-width="2" />
<line x1="302.6" y1="403.425" x2="306.0" y2="403.425" stroke="#000" stroke-width="1.3" />
<line x1="302.6" y1="385.85" x2="306.0" y2="385.85" stroke="#000" stroke-width="1.3" />
<line x1="302.6" y1="368.275" x2="306.0" y2="368.275" stroke="#000" stroke-width="1.3" />
<line x1="302.6" y1="350.7" x2="306.0" y2="350.7" stroke="#000" stroke-width="1.3" />
<line x1="302.6" y1="333.125" x2="306.0" y2="333.125" stroke="#000" stroke-width="1.3" />
<line x1="302.6" y1="315.55" x2="306.0" y2="315.55" stroke="#000" stroke-width="1.3" />
<line x1="302.6" y1="297.975" x2="306.0" y2="297.975" stroke="#000" stroke-width="1.3" />
<line x1="302.6" y1="280.4" x2="306.0" y2="280.4" stroke="#000" stroke-width="1.3" />
<text x="299.8" y="424.3" font-size="9.5" font-weight="bold" fill="#000" stroke="#000" stroke-width="0.11" text-anchor="end" textLength="4.9" lengthAdjust="spacingAndGlyphs" >0</text>
<text x="299.8" y="406.725" font-size="9.5" font-weight="bold" fill="#000" stroke="#000" stroke-width="0.11" text-anchor="end" textLength="4.9" lengthAdjust="spacingAndGlyphs" >5</text>
<text x="299.8" y="389.15000000000003" font-size="9.5" font-weight="bold" fill="#000" stroke="#000" stroke-width="0.11" text-anchor="end" textLength="9.8" lengthAdjust="spacingAndGlyphs" >10</text>
<text x="299.8" y="371.575" font-size="9.5" font-weight="bold" fill="#000" stroke="#000" stroke-width="0.11" text-anchor="end" textLength="9.8" lengthAdjust="spacingAndGlyphs" >15</text>
<text x="299.8" y="354.0" font-size="9.5" font-weight="bold" fill="#000" stroke="#000" stroke-width="0.11" text-anchor="end" textLength="9.8" lengthAdjust="spacingAndGlyphs" >20</text>
<text x="299.8" y="336.425" font-size="9.5" font-weight="bold" fill="#000" stroke="#000" stroke-width="0.11" text-anchor="end" textLength="9.8" lengthAdjust="spacingAndGlyphs" >25</text>
<text x="299.8" y="318.85" font-size="9.5" font-weight="bold" fill="#000" stroke="#000" stroke-width="0.11" text-anchor="end" textLength="9.8" lengthAdjust="spacingAndGlyphs" >30</text>
<text x="299.8" y="301.27500000000003" font-size="9.5" font-weight="bold" fill="#000" stroke="#000" stroke-width="0.11" text-anchor="end" textLength="9.8" lengthAdjust="spacingAndGlyphs" >35</text>
<text x="299.8" y="283.7" font-size="9.5" font-weight="bold" fill="#000" stroke="#000" stroke-width="0.11" text-anchor="end" textLength="9.8" lengthAdjust="spacingAndGlyphs" >40</text>
<text x="281.7" y="352.1" font-size="11.8" font-weight="bold" fill="#000" stroke="#000" stroke-width="0.14" text-anchor="middle" textLength="101.2" lengthAdjust="spacingAndGlyphs" transform="rotate(-90 281.7 352.1)" >Body weight (gms)</text>
<line x1="304.8" y1="421.3" x2="498" y2="421.3" stroke="#000" stroke-width="2.2" />
<rect x="310.50" y="313.75" width="6.55" height="107.55" fill="#6aa6ec" stroke="#222" stroke-width="0.85" />
<rect x="317.05" y="312.50" width="6.55" height="108.80" fill="#e2323c" stroke="#222" stroke-width="0.85" />
<rect x="323.60" y="302.50" width="6.55" height="118.80" fill="#fff48c" stroke="#222" stroke-width="0.85" />
<rect x="330.15" y="310.00" width="6.55" height="111.30" fill="#4cd84c" stroke="#222" stroke-width="0.85" />
<rect x="336.70" y="303.75" width="6.55" height="117.55" fill="#6a14ee" stroke="#222" stroke-width="0.85" />
<rect x="343.25" y="305.00" width="6.55" height="116.30" fill="#f8a64a" stroke="#222" stroke-width="0.85" />
<line x1="313.775" y1="305.5" x2="313.775" y2="322.0" stroke="#3a3a3a" stroke-width="1.0" />
<line x1="310.875" y1="305.5" x2="316.67499999999995" y2="305.5" stroke="#3a3a3a" stroke-width="1.2" />
<line x1="310.875" y1="322.0" x2="316.67499999999995" y2="322.0" stroke="#3a3a3a" stroke-width="1.1" />
<line x1="320.325" y1="299.5" x2="320.325" y2="325.5" stroke="#3a3a3a" stroke-width="1.0" />
<line x1="317.425" y1="299.5" x2="323.22499999999997" y2="299.5" stroke="#3a3a3a" stroke-width="1.2" />
<line x1="317.425" y1="325.5" x2="323.22499999999997" y2="325.5" stroke="#3a3a3a" stroke-width="1.1" />
<line x1="326.875" y1="294.25" x2="326.875" y2="310.75" stroke="#3a3a3a" stroke-width="1.0" />
<line x1="323.975" y1="294.25" x2="329.775" y2="294.25" stroke="#3a3a3a" stroke-width="1.2" />
<line x1="323.975" y1="310.75" x2="329.775" y2="310.75" stroke="#3a3a3a" stroke-width="1.1" />
<line x1="333.42499999999995" y1="301.75" x2="333.42499999999995" y2="318.25" stroke="#3a3a3a" stroke-width="1.0" />
<line x1="330.525" y1="301.75" x2="336.32499999999993" y2="301.75" stroke="#3a3a3a" stroke-width="1.2" />
<line x1="330.525" y1="318.25" x2="336.32499999999993" y2="318.25" stroke="#3a3a3a" stroke-width="1.1" />
<line x1="346.525" y1="294.5" x2="346.525" y2="315.5" stroke="#3a3a3a" stroke-width="1.0" />
<line x1="343.625" y1="294.5" x2="349.42499999999995" y2="294.5" stroke="#3a3a3a" stroke-width="1.2" />
<line x1="343.625" y1="315.5" x2="349.42499999999995" y2="315.5" stroke="#3a3a3a" stroke-width="1.1" />
<rect x="359.20" y="313.70" width="6.55" height="107.60" fill="#6aa6ec" stroke="#222" stroke-width="0.85" />
<rect x="365.75" y="315.80" width="6.55" height="105.50" fill="#e2323c" stroke="#222" stroke-width="0.85" />
<rect x="372.30" y="302.50" width="6.55" height="118.80" fill="#fff48c" stroke="#222" stroke-width="0.85" />
<rect x="378.85" y="309.50" width="6.55" height="111.80" fill="#4cd84c" stroke="#222" stroke-width="0.85" />
<rect x="385.40" y="303.90" width="6.55" height="117.40" fill="#6a14ee" stroke="#222" stroke-width="0.85" />
<rect x="391.95" y="304.80" width="6.55" height="116.50" fill="#f8a64a" stroke="#222" stroke-width="0.85" />
<line x1="362.47499999999997" y1="311.2" x2="362.47499999999997" y2="316.2" stroke="#3a3a3a" stroke-width="1.0" />
<line x1="359.575" y1="311.2" x2="365.37499999999994" y2="311.2" stroke="#3a3a3a" stroke-width="1.2" />
<line x1="359.575" y1="316.2" x2="365.37499999999994" y2="316.2" stroke="#3a3a3a" stroke-width="1.1" />
<line x1="369.025" y1="306.8" x2="369.025" y2="324.8" stroke="#3a3a3a" stroke-width="1.0" />
<line x1="366.125" y1="306.8" x2="371.92499999999995" y2="306.8" stroke="#3a3a3a" stroke-width="1.2" />
<line x1="366.125" y1="324.8" x2="371.92499999999995" y2="324.8" stroke="#3a3a3a" stroke-width="1.1" />
<line x1="375.575" y1="293.3" x2="375.575" y2="311.7" stroke="#3a3a3a" stroke-width="1.0" />
<line x1="372.675" y1="293.3" x2="378.47499999999997" y2="293.3" stroke="#3a3a3a" stroke-width="1.2" />
<line x1="372.675" y1="311.7" x2="378.47499999999997" y2="311.7" stroke="#3a3a3a" stroke-width="1.1" />
<line x1="382.12499999999994" y1="302.5" x2="382.12499999999994" y2="316.5" stroke="#3a3a3a" stroke-width="1.0" />
<line x1="379.22499999999997" y1="302.5" x2="385.0249999999999" y2="302.5" stroke="#3a3a3a" stroke-width="1.2" />
<line x1="379.22499999999997" y1="316.5" x2="385.0249999999999" y2="316.5" stroke="#3a3a3a" stroke-width="1.1" />
<line x1="395.22499999999997" y1="298.1" x2="395.22499999999997" y2="311.5" stroke="#3a3a3a" stroke-width="1.0" />
<line x1="392.325" y1="298.1" x2="398.12499999999994" y2="298.1" stroke="#3a3a3a" stroke-width="1.2" />
<line x1="392.325" y1="311.5" x2="398.12499999999994" y2="311.5" stroke="#3a3a3a" stroke-width="1.1" />
<rect x="407.60" y="318.75" width="6.55" height="102.55" fill="#6aa6ec" stroke="#222" stroke-width="0.85" />
<rect x="414.15" y="314.50" width="6.55" height="106.80" fill="#e2323c" stroke="#222" stroke-width="0.85" />
<rect x="420.70" y="303.75" width="6.55" height="117.55" fill="#fff48c" stroke="#222" stroke-width="0.85" />
<rect x="427.25" y="306.75" width="6.55" height="114.55" fill="#4cd84c" stroke="#222" stroke-width="0.85" />
<rect x="433.80" y="311.25" width="6.55" height="110.05" fill="#6a14ee" stroke="#222" stroke-width="0.85" />
<rect x="440.35" y="310.50" width="6.55" height="110.80" fill="#f8a64a" stroke="#222" stroke-width="0.85" />
<line x1="410.875" y1="313.75" x2="410.875" y2="323.75" stroke="#3a3a3a" stroke-width="1.0" />
<line x1="407.975" y1="313.75" x2="413.775" y2="313.75" stroke="#3a3a3a" stroke-width="1.2" />
<line x1="407.975" y1="323.75" x2="413.775" y2="323.75" stroke="#3a3a3a" stroke-width="1.1" />
<line x1="417.425" y1="305" x2="417.425" y2="324.0" stroke="#3a3a3a" stroke-width="1.0" />
<line x1="414.52500000000003" y1="305" x2="420.325" y2="305" stroke="#3a3a3a" stroke-width="1.2" />
<line x1="414.52500000000003" y1="324.0" x2="420.325" y2="324.0" stroke="#3a3a3a" stroke-width="1.1" />
<line x1="423.975" y1="290.5" x2="423.975" y2="317.0" stroke="#3a3a3a" stroke-width="1.0" />
<line x1="421.07500000000005" y1="290.5" x2="426.875" y2="290.5" stroke="#3a3a3a" stroke-width="1.2" />
<line x1="421.07500000000005" y1="317.0" x2="426.875" y2="317.0" stroke="#3a3a3a" stroke-width="1.1" />
<line x1="430.525" y1="299.5" x2="430.525" y2="314.0" stroke="#3a3a3a" stroke-width="1.0" />
<line x1="427.625" y1="299.5" x2="433.42499999999995" y2="299.5" stroke="#3a3a3a" stroke-width="1.2" />
<line x1="427.625" y1="314.0" x2="433.42499999999995" y2="314.0" stroke="#3a3a3a" stroke-width="1.1" />
<line x1="443.625" y1="302" x2="443.625" y2="319.0" stroke="#3a3a3a" stroke-width="1.0" />
<line x1="440.725" y1="302" x2="446.525" y2="302" stroke="#3a3a3a" stroke-width="1.2" />
<line x1="440.725" y1="319.0" x2="446.525" y2="319.0" stroke="#3a3a3a" stroke-width="1.1" />
<rect x="456.30" y="314.25" width="6.55" height="107.05" fill="#6aa6ec" stroke="#222" stroke-width="0.85" />
<rect x="462.85" y="316.25" width="6.55" height="105.05" fill="#e2323c" stroke="#222" stroke-width="0.85" />
<rect x="469.40" y="297.50" width="6.55" height="123.80" fill="#fff48c" stroke="#222" stroke-width="0.85" />
<rect x="475.95" y="306.75" width="6.55" height="114.55" fill="#4cd84c" stroke="#222" stroke-width="0.85" />
<rect x="482.50" y="309.25" width="6.55" height="112.05" fill="#6a14ee" stroke="#222" stroke-width="0.85" />
<rect x="489.05" y="312.50" width="6.55" height="108.80" fill="#f8a64a" stroke="#222" stroke-width="0.85" />
<line x1="459.575" y1="309.5" x2="459.575" y2="319.0" stroke="#3a3a3a" stroke-width="1.0" />
<line x1="456.675" y1="309.5" x2="462.47499999999997" y2="309.5" stroke="#3a3a3a" stroke-width="1.2" />
<line x1="456.675" y1="319.0" x2="462.47499999999997" y2="319.0" stroke="#3a3a3a" stroke-width="1.1" />
<line x1="466.125" y1="305.75" x2="466.125" y2="326.75" stroke="#3a3a3a" stroke-width="1.0" />
<line x1="463.225" y1="305.75" x2="469.025" y2="305.75" stroke="#3a3a3a" stroke-width="1.2" />
<line x1="463.225" y1="326.75" x2="469.025" y2="326.75" stroke="#3a3a3a" stroke-width="1.1" />
<line x1="472.675" y1="289.5" x2="472.675" y2="305.5" stroke="#3a3a3a" stroke-width="1.0" />
<line x1="469.77500000000003" y1="289.5" x2="475.575" y2="289.5" stroke="#3a3a3a" stroke-width="1.2" />
<line x1="469.77500000000003" y1="305.5" x2="475.575" y2="305.5" stroke="#3a3a3a" stroke-width="1.1" />
<line x1="479.22499999999997" y1="298.75" x2="479.22499999999997" y2="314.75" stroke="#3a3a3a" stroke-width="1.0" />
<line x1="476.325" y1="298.75" x2="482.12499999999994" y2="298.75" stroke="#3a3a3a" stroke-width="1.2" />
<line x1="476.325" y1="314.75" x2="482.12499999999994" y2="314.75" stroke="#3a3a3a" stroke-width="1.1" />
<line x1="485.775" y1="308" x2="485.775" y2="310.5" stroke="#3a3a3a" stroke-width="1.0" />
<line x1="482.875" y1="308" x2="488.67499999999995" y2="308" stroke="#3a3a3a" stroke-width="1.2" />
<line x1="482.875" y1="310.5" x2="488.67499999999995" y2="310.5" stroke="#3a3a3a" stroke-width="1.1" />
<line x1="492.325" y1="310" x2="492.325" y2="315.0" stroke="#3a3a3a" stroke-width="1.0" />
<line x1="489.425" y1="310" x2="495.22499999999997" y2="310" stroke="#3a3a3a" stroke-width="1.2" />
<line x1="489.425" y1="315.0" x2="495.22499999999997" y2="315.0" stroke="#3a3a3a" stroke-width="1.1" />
<line x1="314.40000000000003" y1="430.3" x2="348.8" y2="430.3" stroke="#000" stroke-width="1.9" />
<text x="330.45" y="443.8" font-size="11" font-weight="bold" fill="#000" stroke="#000" stroke-width="0.13" text-anchor="middle" textLength="25.5" lengthAdjust="spacingAndGlyphs" >Day 0</text>
<line x1="362.7" y1="430.3" x2="397.09999999999997" y2="430.3" stroke="#000" stroke-width="1.9" />
<text x="380.3" y="443.8" font-size="11" font-weight="bold" fill="#000" stroke="#000" stroke-width="0.13" text-anchor="middle" textLength="26" lengthAdjust="spacingAndGlyphs" >Day 8</text>
<line x1="411.2" y1="430.3" x2="445.59999999999997" y2="430.3" stroke="#000" stroke-width="1.9" />
<text x="428.75" y="443.8" font-size="11" font-weight="bold" fill="#000" stroke="#000" stroke-width="0.13" text-anchor="middle" textLength="31" lengthAdjust="spacingAndGlyphs" >Day 16</text>
<line x1="459.40000000000003" y1="430.3" x2="493.8" y2="430.3" stroke="#000" stroke-width="1.9" />
<text x="476.9" y="443.8" font-size="11" font-weight="bold" fill="#000" stroke="#000" stroke-width="0.13" text-anchor="middle" textLength="31.2" lengthAdjust="spacingAndGlyphs" >Day 25</text>
<text x="0.6" y="471.9" font-size="12.2" font-weight="bold" fill="#000" stroke="#000" stroke-width="0.15" textLength="7.5" lengthAdjust="spacingAndGlyphs" >E</text>
<line x1="53.7" y1="473.6" x2="53.7" y2="620.8" stroke="#000" stroke-width="2" />
<text x="45.8" y="623.0999999999999" font-size="9.3" font-weight="bold" fill="#000" stroke="#000" stroke-width="0.11" text-anchor="end" >0</text>
<line x1="49.900000000000006" y1="605.2199999999999" x2="53.7" y2="605.2199999999999" stroke="#000" stroke-width="1.3" />
<text x="45.8" y="608.5199999999999" font-size="9.3" font-weight="bold" fill="#000" stroke="#000" stroke-width="0.11" text-anchor="end" >0.2</text>
<line x1="49.900000000000006" y1="590.64" x2="53.7" y2="590.64" stroke="#000" stroke-width="1.3" />
<text x="45.8" y="593.9399999999999" font-size="9.3" font-weight="bold" fill="#000" stroke="#000" stroke-width="0.11" text-anchor="end" >0.4</text>
<line x1="49.900000000000006" y1="576.06" x2="53.7" y2="576.06" stroke="#000" stroke-width="1.3" />
<text x="45.8" y="579.3599999999999" font-size="9.3" font-weight="bold" fill="#000" stroke="#000" stroke-width="0.11" text-anchor="end" >0.6</text>
<line x1="49.900000000000006" y1="561.4799999999999" x2="53.7" y2="561.4799999999999" stroke="#000" stroke-width="1.3" />
<text x="45.8" y="564.7799999999999" font-size="9.3" font-weight="bold" fill="#000" stroke="#000" stroke-width="0.11" text-anchor="end" >0.8</text>
<line x1="49.900000000000006" y1="546.9" x2="53.7" y2="546.9" stroke="#000" stroke-width="1.3" />
<text x="45.8" y="550.1999999999999" font-size="9.3" font-weight="bold" fill="#000" stroke="#000" stroke-width="0.11" text-anchor="end" >1.0</text>
<line x1="49.900000000000006" y1="532.3199999999999" x2="53.7" y2="532.3199999999999" stroke="#000" stroke-width="1.3" />
<text x="45.8" y="535.6199999999999" font-size="9.3" font-weight="bold" fill="#000" stroke="#000" stroke-width="0.11" text-anchor="end" >1.2</text>
<line x1="49.900000000000006" y1="517.7399999999999" x2="53.7" y2="517.7399999999999" stroke="#000" stroke-width="1.3" />
<text x="45.8" y="521.0399999999998" font-size="9.3" font-weight="bold" fill="#000" stroke="#000" stroke-width="0.11" text-anchor="end" >1.4</text>
<line x1="49.900000000000006" y1="503.15999999999997" x2="53.7" y2="503.15999999999997" stroke="#000" stroke-width="1.3" />
<text x="45.8" y="506.46" font-size="9.3" font-weight="bold" fill="#000" stroke="#000" stroke-width="0.11" text-anchor="end" >1.6</text>
<line x1="49.900000000000006" y1="488.5799999999999" x2="53.7" y2="488.5799999999999" stroke="#000" stroke-width="1.3" />
<text x="45.8" y="491.87999999999994" font-size="9.3" font-weight="bold" fill="#000" stroke="#000" stroke-width="0.11" text-anchor="end" >1.8</text>
<line x1="49.900000000000006" y1="473.99999999999994" x2="53.7" y2="473.99999999999994" stroke="#000" stroke-width="1.3" />
<text x="45.8" y="477.29999999999995" font-size="9.3" font-weight="bold" fill="#000" stroke="#000" stroke-width="0.11" text-anchor="end" >2.0</text>
<line x1="52.7" y1="619.8" x2="171.5" y2="619.8" stroke="#000" stroke-width="2.2" />
<rect x="65.20" y="509.25" width="16.65" height="110.55" fill="#8b0a0c" stroke="#1a1a1a" stroke-width="0.6" />
<rect x="81.85" y="561.75" width="16.65" height="58.05" fill="#ec1c1c" stroke="#1a1a1a" stroke-width="0.6" />
<rect x="98.50" y="572.00" width="16.65" height="47.80" fill="#186c1c" stroke="#1a1a1a" stroke-width="0.6" />
<rect x="115.15" y="569.25" width="16.65" height="50.55" fill="#f0148c" stroke="#1a1a1a" stroke-width="0.6" />
<rect x="131.80" y="569.25" width="16.65" height="50.55" fill="#6a18f2" stroke="#1a1a1a" stroke-width="0.6" />
<rect x="148.45" y="578.75" width="16.65" height="41.05" fill="#fff614" stroke="#1a1a1a" stroke-width="0.6" />
<line x1="73.525" y1="487" x2="73.525" y2="509.25" stroke="#222" stroke-width="1.1" />
<line x1="70.72500000000001" y1="487" x2="76.325" y2="487" stroke="#222" stroke-width="1.2" />
<line x1="90.175" y1="560" x2="90.175" y2="561.75" stroke="#222" stroke-width="1.1" />
<line x1="87.375" y1="560" x2="92.975" y2="560" stroke="#222" stroke-width="1.2" />
<line x1="106.825" y1="568.5" x2="106.825" y2="572" stroke="#222" stroke-width="1.1" />
<line x1="104.025" y1="568.5" x2="109.625" y2="568.5" stroke="#222" stroke-width="1.2" />
<line x1="123.47500000000001" y1="564.5" x2="123.47500000000001" y2="569.25" stroke="#222" stroke-width="1.1" />
<line x1="120.67500000000001" y1="564.5" x2="126.275" y2="564.5" stroke="#222" stroke-width="1.2" />
<line x1="140.125" y1="565" x2="140.125" y2="569.25" stroke="#222" stroke-width="1.1" />
<line x1="137.325" y1="565" x2="142.925" y2="565" stroke="#222" stroke-width="1.2" />
<line x1="156.77499999999998" y1="576.5" x2="156.77499999999998" y2="578.75" stroke="#222" stroke-width="1.1" />
<line x1="153.97499999999997" y1="576.5" x2="159.575" y2="576.5" stroke="#222" stroke-width="1.2" />
<text x="116.9" y="486.2" font-size="10.6" font-weight="bold" fill="#000" stroke="#000" stroke-width="0.13" textLength="38.8" lengthAdjust="spacingAndGlyphs" >Bilirubin</text>
<text x="22.7" y="540.5" font-size="8.4" font-weight="bold" fill="#000" stroke="#000" stroke-width="0.10" text-anchor="middle" textLength="25.3" lengthAdjust="spacingAndGlyphs" transform="rotate(-90 22.7 540.5)" >mg/dl</text>
<line x1="214.9" y1="476.8" x2="214.9" y2="616.6" stroke="#000" stroke-width="2" />
<text x="207.5" y="617.5999999999999" font-size="9.3" font-weight="bold" fill="#000" stroke="#000" stroke-width="0.11" text-anchor="end" >0</text>
<line x1="211.1" y1="592.3" x2="214.9" y2="592.3" stroke="#000" stroke-width="1.3" />
<text x="207.5" y="595.5999999999999" font-size="9.3" font-weight="bold" fill="#000" stroke="#000" stroke-width="0.11" text-anchor="end" >2</text>
<line x1="211.1" y1="569.3" x2="214.9" y2="569.3" stroke="#000" stroke-width="1.3" />
<text x="207.5" y="572.5999999999999" font-size="9.3" font-weight="bold" fill="#000" stroke="#000" stroke-width="0.11" text-anchor="end" >4</text>
<line x1="211.1" y1="546.3" x2="214.9" y2="546.3" stroke="#000" stroke-width="1.3" />
<text x="207.5" y="549.5999999999999" font-size="9.3" font-weight="bold" fill="#000" stroke="#000" stroke-width="0.11" text-anchor="end" >6</text>
<line x1="211.1" y1="523.3" x2="214.9" y2="523.3" stroke="#000" stroke-width="1.3" />
<text x="207.5" y="526.5999999999999" font-size="9.3" font-weight="bold" fill="#000" stroke="#000" stroke-width="0.11" text-anchor="end" >8</text>
<line x1="211.1" y1="500.29999999999995" x2="214.9" y2="500.29999999999995" stroke="#000" stroke-width="1.3" />
<text x="207.5" y="503.59999999999997" font-size="9.3" font-weight="bold" fill="#000" stroke="#000" stroke-width="0.11" text-anchor="end" >10</text>
<line x1="211.1" y1="477.29999999999995" x2="214.9" y2="477.29999999999995" stroke="#000" stroke-width="1.3" />
<text x="207.5" y="480.59999999999997" font-size="9.3" font-weight="bold" fill="#000" stroke="#000" stroke-width="0.11" text-anchor="end" >12</text>
<line x1="213.9" y1="615.6" x2="339" y2="615.6" stroke="#000" stroke-width="2.2" />
<rect x="227.60" y="526.75" width="17.20" height="88.85" fill="#8b0a0c" stroke="#1a1a1a" stroke-width="0.6" />
<rect x="244.80" y="539.50" width="17.20" height="76.10" fill="#ec1c1c" stroke="#1a1a1a" stroke-width="0.6" />
<rect x="262.00" y="532.50" width="17.20" height="83.10" fill="#186c1c" stroke="#1a1a1a" stroke-width="0.6" />
<rect x="279.20" y="542.50" width="17.20" height="73.10" fill="#f0148c" stroke="#1a1a1a" stroke-width="0.6" />
<rect x="296.40" y="507.75" width="17.20" height="107.85" fill="#6a18f2" stroke="#1a1a1a" stroke-width="0.6" />
<rect x="313.60" y="511.25" width="17.20" height="104.35" fill="#fff614" stroke="#1a1a1a" stroke-width="0.6" />
<line x1="236.2" y1="517.5" x2="236.2" y2="536.0" stroke="#222" stroke-width="1.1" />
<line x1="233.39999999999998" y1="517.5" x2="239.0" y2="517.5" stroke="#222" stroke-width="1.2" />
<line x1="233.39999999999998" y1="536.0" x2="239.0" y2="536.0" stroke="#222" stroke-width="1.1" />
<line x1="253.39999999999998" y1="533.25" x2="253.39999999999998" y2="545.75" stroke="#222" stroke-width="1.1" />
<line x1="250.59999999999997" y1="533.25" x2="256.2" y2="533.25" stroke="#222" stroke-width="1.2" />
<line x1="250.59999999999997" y1="545.75" x2="256.2" y2="545.75" stroke="#222" stroke-width="1.1" />
<line x1="270.6" y1="520.5" x2="270.6" y2="544.5" stroke="#222" stroke-width="1.1" />
<line x1="267.8" y1="520.5" x2="273.40000000000003" y2="520.5" stroke="#222" stroke-width="1.2" />
<line x1="267.8" y1="544.5" x2="273.40000000000003" y2="544.5" stroke="#222" stroke-width="1.1" />
<line x1="287.8" y1="540.5" x2="287.8" y2="544.5" stroke="#222" stroke-width="1.1" />
<line x1="285.0" y1="540.5" x2="290.6" y2="540.5" stroke="#222" stroke-width="1.2" />
<line x1="285.0" y1="544.5" x2="290.6" y2="544.5" stroke="#222" stroke-width="1.1" />
<line x1="305.0" y1="504.25" x2="305.0" y2="511.25" stroke="#222" stroke-width="1.1" />
<line x1="302.2" y1="504.25" x2="307.8" y2="504.25" stroke="#222" stroke-width="1.2" />
<line x1="302.2" y1="511.25" x2="307.8" y2="511.25" stroke="#222" stroke-width="1.1" />
<line x1="322.20000000000005" y1="506.5" x2="322.20000000000005" y2="516.0" stroke="#222" stroke-width="1.1" />
<line x1="319.40000000000003" y1="506.5" x2="325.00000000000006" y2="506.5" stroke="#222" stroke-width="1.2" />
<line x1="319.40000000000003" y1="516.0" x2="325.00000000000006" y2="516.0" stroke="#222" stroke-width="1.1" />
<text x="261.3" y="486.9" font-size="9.9" font-weight="bold" fill="#000" stroke="#000" stroke-width="0.12" textLength="55" lengthAdjust="spacingAndGlyphs" >Hemoglobin</text>
<text x="194.1" y="540.1" font-size="8.4" font-weight="bold" fill="#000" stroke="#000" stroke-width="0.10" text-anchor="middle" textLength="16.6" lengthAdjust="spacingAndGlyphs" transform="rotate(-90 194.1 540.1)" >g/dl</text>
<line x1="388.8" y1="470" x2="388.8" y2="615.5" stroke="#000" stroke-width="2" />
<text x="381.2" y="617.3" font-size="9.3" font-weight="bold" fill="#000" stroke="#000" stroke-width="0.11" text-anchor="end" >0</text>
<line x1="385.0" y1="595.66" x2="388.8" y2="595.66" stroke="#000" stroke-width="1.3" />
<text x="381.2" y="598.9599999999999" font-size="9.3" font-weight="bold" fill="#000" stroke="#000" stroke-width="0.11" text-anchor="end" >0.2</text>
<line x1="385.0" y1="577.82" x2="388.8" y2="577.82" stroke="#000" stroke-width="1.3" />
<text x="381.2" y="581.12" font-size="9.3" font-weight="bold" fill="#000" stroke="#000" stroke-width="0.11" text-anchor="end" >0.4</text>
<line x1="385.0" y1="559.98" x2="388.8" y2="559.98" stroke="#000" stroke-width="1.3" />
<text x="381.2" y="563.28" font-size="9.3" font-weight="bold" fill="#000" stroke="#000" stroke-width="0.11" text-anchor="end" >0.6</text>
<line x1="385.0" y1="542.14" x2="388.8" y2="542.14" stroke="#000" stroke-width="1.3" />
<text x="381.2" y="545.4399999999999" font-size="9.3" font-weight="bold" fill="#000" stroke="#000" stroke-width="0.11" text-anchor="end" >0.8</text>
<line x1="385.0" y1="524.3" x2="388.8" y2="524.3" stroke="#000" stroke-width="1.3" />
<text x="381.2" y="527.5999999999999" font-size="9.3" font-weight="bold" fill="#000" stroke="#000" stroke-width="0.11" text-anchor="end" >1.0</text>
<line x1="385.0" y1="506.46" x2="388.8" y2="506.46" stroke="#000" stroke-width="1.3" />
<text x="381.2" y="509.76" font-size="9.3" font-weight="bold" fill="#000" stroke="#000" stroke-width="0.11" text-anchor="end" >1.2</text>
<line x1="385.0" y1="488.62" x2="388.8" y2="488.62" stroke="#000" stroke-width="1.3" />
<text x="381.2" y="491.92" font-size="9.3" font-weight="bold" fill="#000" stroke="#000" stroke-width="0.11" text-anchor="end" >1.4</text>
<line x1="385.0" y1="470.78" x2="388.8" y2="470.78" stroke="#000" stroke-width="1.3" />
<text x="381.2" y="474.08" font-size="9.3" font-weight="bold" fill="#000" stroke="#000" stroke-width="0.11" text-anchor="end" >1.6</text>
<line x1="387.8" y1="614.5" x2="517.3" y2="614.5" stroke="#000" stroke-width="2.2" />
<rect x="401.20" y="509.00" width="18.35" height="105.50" fill="#8b0a0c" stroke="#1a1a1a" stroke-width="0.6" />
<rect x="419.55" y="522.90" width="18.35" height="91.60" fill="#ec1c1c" stroke="#1a1a1a" stroke-width="0.6" />
<rect x="437.90" y="517.70" width="18.35" height="96.80" fill="#186c1c" stroke="#1a1a1a" stroke-width="0.6" />
<rect x="456.25" y="524.90" width="18.35" height="89.60" fill="#f0148c" stroke="#1a1a1a" stroke-width="0.6" />
<rect x="474.60" y="528.40" width="18.35" height="86.10" fill="#6a18f2" stroke="#1a1a1a" stroke-width="0.6" />
<rect x="492.95" y="524.90" width="18.35" height="89.60" fill="#fff614" stroke="#1a1a1a" stroke-width="0.6" />
<line x1="410.375" y1="491.2" x2="410.375" y2="509" stroke="#222" stroke-width="1.1" />
<line x1="407.575" y1="491.2" x2="413.175" y2="491.2" stroke="#222" stroke-width="1.2" />
<line x1="428.725" y1="522" x2="428.725" y2="522.9" stroke="#222" stroke-width="1.1" />
<line x1="425.925" y1="522" x2="431.52500000000003" y2="522" stroke="#222" stroke-width="1.2" />
<line x1="447.075" y1="514.8" x2="447.075" y2="517.7" stroke="#222" stroke-width="1.1" />
<line x1="444.275" y1="514.8" x2="449.875" y2="514.8" stroke="#222" stroke-width="1.2" />
<line x1="465.425" y1="521.4" x2="465.425" y2="524.9" stroke="#222" stroke-width="1.1" />
<line x1="462.625" y1="521.4" x2="468.225" y2="521.4" stroke="#222" stroke-width="1.2" />
<line x1="483.77500000000003" y1="523.5" x2="483.77500000000003" y2="528.4" stroke="#222" stroke-width="1.1" />
<line x1="480.975" y1="523.5" x2="486.57500000000005" y2="523.5" stroke="#222" stroke-width="1.2" />
<line x1="502.125" y1="521.1" x2="502.125" y2="524.9" stroke="#222" stroke-width="1.1" />
<line x1="499.325" y1="521.1" x2="504.925" y2="521.1" stroke="#222" stroke-width="1.2" />
<text x="445.6" y="485.8" font-size="11.2" font-weight="bold" fill="#000" stroke="#000" stroke-width="0.13" textLength="50.4" lengthAdjust="spacingAndGlyphs" >Creatinine</text>
<text x="362.7" y="537.6" font-size="8.4" font-weight="bold" fill="#000" stroke="#000" stroke-width="0.10" text-anchor="middle" textLength="25" lengthAdjust="spacingAndGlyphs" transform="rotate(-90 362.7 537.6)" >mg/dl</text>
<line x1="61" y1="630.6" x2="516" y2="630.6" stroke="#000" stroke-width="2.7" />
<rect x="189.50" y="640.10" width="4.60" height="4.60" fill="#8b0a0c" />
<text x="196.1" y="644.6999999999999" font-size="6.6" font-weight="bold" fill="#000" stroke="#000" stroke-width="0.08" textLength="12" lengthAdjust="spacingAndGlyphs" >Con</text>
<rect x="189.50" y="650.00" width="4.60" height="4.60" fill="#ec1c1c" />
<text x="196.1" y="654.5999999999999" font-size="6.6" font-weight="bold" fill="#000" stroke="#000" stroke-width="0.08" textLength="41.2" lengthAdjust="spacingAndGlyphs" >NPI-.150mg</text>
<rect x="189.50" y="660.10" width="4.60" height="4.60" fill="#186c1c" />
<text x="196.1" y="664.6999999999999" font-size="6.6" font-weight="bold" fill="#000" stroke="#000" stroke-width="0.08" textLength="37" lengthAdjust="spacingAndGlyphs" >Rev-2.5mg</text>
<rect x="291.50" y="639.60" width="4.60" height="4.60" fill="#f0148c" />
<text x="298.1" y="644.1999999999999" font-size="6.6" font-weight="bold" fill="#000" stroke="#000" stroke-width="0.08" textLength="30.4" lengthAdjust="spacingAndGlyphs" >Rev-5mg</text>
<rect x="291.50" y="649.50" width="4.60" height="4.60" fill="#6a18f2" />
<text x="298.1" y="654.0999999999999" font-size="6.6" font-weight="bold" fill="#000" stroke="#000" stroke-width="0.08" textLength="85.4" lengthAdjust="spacingAndGlyphs" >NPI-.150mg+ Rev 2.5mg</text>
<rect x="291.50" y="659.70" width="4.60" height="4.60" fill="#fff614" />
<text x="298.1" y="664.3" font-size="6.6" font-weight="bold" fill="#000" stroke="#000" stroke-width="0.08" textLength="77.3" lengthAdjust="spacingAndGlyphs" >NPI-.150mg+Rev-5mg</text>
</svg>
</body></html>
